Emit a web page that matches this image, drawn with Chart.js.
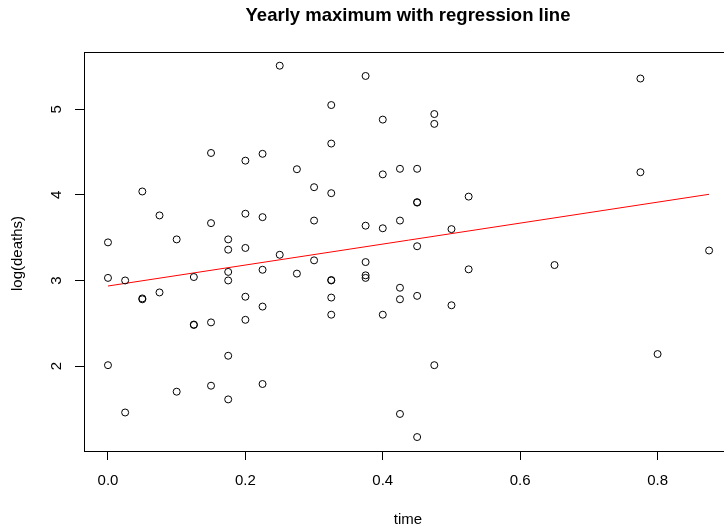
<!DOCTYPE html>
<html lang="en">
<head>
    <meta charset="UTF-8">
    <title>Yearly maximum with regression line</title>
    <script src="https://cdn.jsdelivr.net/npm/chart.js"></script>
    <style>
        body {
            margin: 0;
            background-color: #fff;
        }
        #chartBox {
            width: 724px;
            height: 529px;
        }
    </style>
</head>
<body>
    <div id="chartBox">
        <canvas id="scatterChart"></canvas>
    </div>

    <script>
        // observed points (time, log(deaths))
        const timeVals = [
            0.25, 0.15, 0.2, 0.225, 0.275, 0.05, 0.075, 0.2, 0.225, 0.15,
            0, 0.1, 0.175, 0.2, 0.375, 0.325, 0.4, 0.475, 0.475, 0.325,
            0.4, 0.425, 0.45, 0.3, 0.325, 0.45, 0.45, 0.525, 0.3, 0.375,
            0.4, 0.425, 0.5, 0.45, 0.775, 0.775, 0.65, 0.875, 0.8, 0.175,
            0.25, 0, 0.025, 0.125, 0.175, 0.175, 0.225, 0.275, 0.05, 0.05,
            0.075, 0.2, 0.225, 0.125, 0.125, 0.15, 0.2, 0, 0.175, 0.1,
            0.15, 0.225, 0.175, 0.025, 0.3, 0.375, 0.325, 0.325, 0.375, 0.375,
            0.525, 0.425, 0.325, 0.425, 0.45, 0.5, 0.325, 0.4, 0.475, 0.425,
            0.45
        ];
        const logDeaths = [
            5.51, 4.49, 4.40, 4.48, 4.30, 4.04, 3.76, 3.78, 3.74, 3.67,
            3.445, 3.48, 3.48, 3.38, 5.39, 5.05, 4.88, 4.945, 4.83, 4.60,
            4.24, 4.305, 4.305, 4.09, 4.02, 3.91, 3.915, 3.98, 3.70, 3.64,
            3.61, 3.70, 3.60, 3.40, 5.36, 4.265, 3.18, 3.35, 2.14, 3.36,
            3.30, 3.03, 3.00, 3.04, 3.10, 3.00, 3.125, 3.08, 2.78, 2.79,
            2.86, 2.81, 2.695, 2.48, 2.485, 2.51, 2.54, 2.01, 2.12, 1.70,
            1.77, 1.79, 1.61, 1.457, 3.235, 3.215, 3.00, 3.005, 3.06, 3.03,
            3.13, 2.915, 2.80, 2.78, 2.82, 2.71, 2.60, 2.60, 2.01, 1.44,
            1.17
        ];

        // fitted line end points
        const regTime = [0, 0.875];
        const regFit = [2.935, 4.007];

        const xTicks = [0, 0.2, 0.4, 0.6, 0.8];
        const yTicks = [2, 3, 4, 5];

        const points = timeVals.map((t, i) => ({ x: t, y: logDeaths[i] }));
        const regLine = regTime.map((t, i) => ({ x: t, y: regFit[i] }));

        const fontFamily = "'Liberation Sans', Arial, sans-serif";

        // box round the plot region, R style (right side runs off the canvas)
        const boxPlugin = {
            id: 'plotBox',
            afterDraw(chart) {
                const { ctx, chartArea } = chart;
                ctx.save();
                ctx.strokeStyle = '#000';
                ctx.lineWidth = 1;
                ctx.strokeRect(chartArea.left + 0.5, chartArea.top + 0.5,
                    chartArea.right - chartArea.left + 20, chartArea.bottom - chartArea.top);
                ctx.restore();
            }
        };

        // texts: title, axis titles and rotated y tick labels
        const textPlugin = {
            id: 'rTexts',
            afterDraw(chart) {
                const { ctx, chartArea } = chart;
                const yScale = chart.scales.y;
                const midX = 408;
                ctx.save();
                ctx.fillStyle = '#000';
                ctx.textAlign = 'center';
                ctx.textBaseline = 'middle';

                ctx.font = 'bold 18.5px ' + fontFamily;
                ctx.fillText('Yearly maximum with regression line', midX, 16);

                ctx.font = '15px ' + fontFamily;
                ctx.fillText('time', midX, 520);

                yScale.ticks.forEach(t => {
                    const py = yScale.getPixelForValue(t.value);
                    ctx.save();
                    ctx.translate(57, py);
                    ctx.rotate(-Math.PI / 2);
                    ctx.fillText(String(t.value), 0, 0);
                    ctx.restore();
                });

                ctx.save();
                ctx.translate(18, (chartArea.top + chartArea.bottom) / 2 + 2);
                ctx.rotate(-Math.PI / 2);
                ctx.fillText('log(deaths)', 0, 0);
                ctx.restore();

                ctx.restore();
            }
        };

        const ctx = document.getElementById('scatterChart').getContext('2d');
        const scatterChart = new Chart(ctx, {
            type: 'scatter',
            data: {
                datasets: [
                    {
                        label: 'log(deaths)',
                        data: points,
                        pointStyle: 'circle',
                        pointRadius: 3.5,
                        borderColor: '#000',
                        borderWidth: 1,
                        backgroundColor: 'rgba(0,0,0,0)'
                    },
                    {
                        type: 'line',
                        label: 'regression',
                        data: regLine,
                        borderColor: '#ff0000',
                        borderWidth: 1,
                        pointRadius: 0,
                        fill: false
                    }
                ]
            },
            options: {
                responsive: true,
                maintainAspectRatio: false,
                animation: false,
                layout: { padding: { top: 52 } },
                plugins: {
                    legend: { display: false },
                    tooltip: { enabled: false },
                    title: { display: false }
                },
                scales: {
                    x: {
                        type: 'linear',
                        min: -0.0349,
                        max: 0.8894,
                        afterBuildTicks: scale => {
                            scale.ticks = xTicks.map(v => ({ value: v }));
                        },
                        afterFit: scale => { scale.height = 78; },
                        grid: {
                            drawOnChartArea: false,
                            drawTicks: true,
                            tickLength: 9,
                            tickColor: '#000',
                            color: '#000'
                        },
                        border: { display: false },
                        ticks: {
                            color: '#000',
                            font: { family: fontFamily, size: 15 },
                            padding: 12,
                            maxRotation: 0,
                            callback: v => v.toFixed(1)
                        }
                    },
                    y: {
                        type: 'linear',
                        min: 1.007,
                        max: 5.670,
                        afterBuildTicks: scale => {
                            scale.ticks = yTicks.map(v => ({ value: v }));
                        },
                        afterFit: scale => { scale.width = 84; },
                        grid: {
                            drawOnChartArea: false,
                            drawTicks: true,
                            tickLength: 9,
                            tickColor: '#000',
                            color: '#000'
                        },
                        border: { display: false },
                        ticks: { display: false }
                    }
                }
            },
            plugins: [boxPlugin, textPlugin]
        });
    </script>
</body>
</html>
